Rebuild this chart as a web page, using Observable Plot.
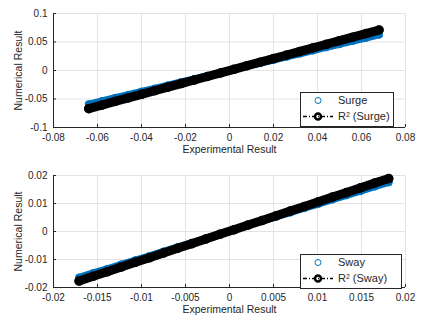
<!DOCTYPE html>
<html>
<head>
<meta charset="utf-8">
<script src="https://cdn.jsdelivr.net/npm/d3@7"></script>
<script src="https://cdn.jsdelivr.net/npm/@observablehq/plot@0.6"></script>
<style>
  html, body { margin: 0; padding: 0; background: #fff; }
  #chart { width: 430px; height: 324px; }
  #chart svg { display: block; }
</style>
</head>
<body>
<div id="chart"></div>
<script>
// ---- Surge data ----
const surgeExp = [-0.064,-0.058,-0.052,-0.046,-0.040,-0.034,-0.028,-0.022,-0.016,-0.010,-0.004,0.002,0.008,0.014,0.020,0.026,0.032,0.038,0.044,0.050,0.056,0.062,0.068];
const surgeNum = [-0.0589,-0.0534,-0.0478,-0.0423,-0.0368,-0.0313,-0.0258,-0.0202,-0.0147,-0.0092,-0.0037,0.0018,0.0074,0.0129,0.0184,0.0239,0.0294,0.0350,0.0405,0.0460,0.0515,0.0570,0.0626];
const surgeFit = [-0.0669,-0.0606,-0.0543,-0.0481,-0.0418,-0.0355,-0.0293,-0.0230,-0.0167,-0.0105,-0.0042,0.0021,0.0084,0.0146,0.0209,0.0272,0.0334,0.0397,0.0460,0.0523,0.0585,0.0648,0.0711];
// ---- Sway data ----
const swayExp = [-0.0171,-0.0155,-0.0139,-0.0123,-0.0107,-0.0091,-0.0075,-0.0059,-0.0043,-0.0027,-0.0011,0.0005,0.0021,0.0037,0.0053,0.0069,0.0085,0.0101,0.0117,0.0133,0.0149,0.0165,0.0181];
const swayNum = [-0.0164,-0.0148,-0.0133,-0.0117,-0.0102,-0.0087,-0.0071,-0.0056,-0.0040,-0.0025,-0.0010,0.0006,0.0021,0.0037,0.0052,0.0067,0.0083,0.0098,0.0114,0.0129,0.0144,0.0160,0.0175];
const swayFit = [-0.0177,-0.0160,-0.0144,-0.0127,-0.0110,-0.0094,-0.0077,-0.0060,-0.0044,-0.0027,-0.0010,0.0006,0.0023,0.0039,0.0056,0.0073,0.0089,0.0106,0.0123,0.0139,0.0156,0.0173,0.0189];
// ---- Ticks ----
const surgeXTicks = [-0.08,-0.06,-0.04,-0.02,0,0.02,0.04,0.06,0.08];
const surgeXLabels = ["-0.08","-0.06","-0.04","-0.02","0","0.02","0.04","0.06","0.08"];
const surgeYTicks = [-0.1,-0.05,0,0.05,0.1];
const surgeYLabels = ["-0.1","-0.05","0","0.05","0.1"];
const swayXTicks = [-0.02,-0.015,-0.01,-0.005,0,0.005,0.01,0.015,0.02];
const swayXLabels = ["-0.02","-0.015","-0.01","-0.005","0","0.005","0.01","0.015","0.02"];
const swayYTicks = [-0.02,-0.01,0,0.01,0.02];
const swayYLabels = ["-0.02","-0.01","0","0.01","0.02"];
const names = ["Surge","Sway"];

const BLUE = "#0072BD";
const INK = "#262626";
const FONT = "'Liberation Sans', Arial, sans-serif";

function panel(exp, num, fit, xT, xL, yT, yL, name, mb, legendW) {
  const data = exp.map((x, i) => ({x, num: num[i], fit: fit[i]}));
  const fmt = (ticks, labels) => d => labels[ticks.indexOf(d)] ?? "";
  const plot = Plot.plot({
    width: 430, height: 162,
    marginTop: 13, marginBottom: mb, marginLeft: 53, marginRight: 25,
    style: {fontFamily: FONT, fontSize: "10px", color: INK, background: "white"},
    x: {domain: [xT[0], xT[xT.length-1]]},
    y: {domain: [yT[0], yT[yT.length-1]]},
    marks: [
      Plot.gridX(xT, {stroke: "#e3e3e3", strokeOpacity: 1}),
      Plot.gridY(yT, {stroke: "#e3e3e3", strokeOpacity: 1}),
      Plot.line(data, {x: "x", y: "num", stroke: BLUE, strokeWidth: 7, strokeLinecap: "round"}),
      Plot.dot(data, {x: "x", y: "num", r: 3.5, stroke: BLUE, strokeWidth: 1}),
      Plot.line(data, {x: "x", y: "fit", stroke: "black", strokeWidth: 9, strokeLinecap: "round"}),
      Plot.dot(data, {x: "x", y: "fit", r: 3.5, stroke: "black", strokeWidth: 2.5}),
      Plot.ruleY([yT[0]], {stroke: INK}),
      Plot.ruleX([xT[0]], {stroke: INK}),
      Plot.axisX(xT, {tickSize: -3, tickFormat: () => "", stroke: INK, label: null}),
      Plot.axisY(yT, {tickSize: -3, tickFormat: () => "", stroke: INK, label: null}),
      Plot.axisX(xT, {tickSize: 0, tickPadding: 6, tickFormat: fmt(xT, xL), fill: INK, label: null}),
      Plot.axisY(yT, {tickSize: 0, tickPadding: 6, tickFormat: fmt(yT, yL), fill: INK, label: null}),
      Plot.text(["Experimental Result"], {frameAnchor: "bottom", dy: 25, fill: INK, fontSize: 10.5}),
      Plot.text(["Numerical Result"], {frameAnchor: "left", dx: -35, rotate: -90, textAnchor: "middle", fill: INK, fontSize: 10.5})
    ]
  });
  // legend
  const svg = d3.select(plot);
  const g = svg.append("g").attr("font-family", FONT).attr("font-size", 11).attr("fill", INK).attr("text-anchor", "start");
  const lx = 300, ly = 92, lh = 34;
  g.append("rect").attr("x", lx + 0.5).attr("y", ly + 0.5).attr("width", legendW).attr("height", lh)
    .attr("fill", "white").attr("stroke", INK).attr("stroke-width", 1);
  g.append("circle").attr("cx", 318).attr("cy", ly + 8.5).attr("r", 3).attr("fill", "none").attr("stroke", BLUE).attr("stroke-width", 1);
  g.append("text").attr("x", 338).attr("y", ly + 8.5).attr("dy", "0.35em").text(name);
  g.append("line").attr("x1", 303).attr("x2", 333).attr("y1", ly + 24.5).attr("y2", ly + 24.5)
    .attr("stroke", "black").attr("stroke-width", 1.5).attr("stroke-dasharray", "4,2,1,2");
  g.append("circle").attr("cx", 318).attr("cy", ly + 24.5).attr("r", 3).attr("fill", "none").attr("stroke", "black").attr("stroke-width", 2.5);
  const t = g.append("text").attr("x", 338).attr("y", ly + 24.5).attr("dy", "0.35em");
  t.append("tspan").text("R");
  t.append("tspan").attr("font-size", 7).attr("dy", "-0.55em").text("2");
  t.append("tspan").attr("dy", "0.35em").attr("dx", 3).text("(" + name + ")");
  return plot;
}

const root = document.getElementById("chart");
root.appendChild(panel(surgeExp, surgeNum, surgeFit, surgeXTicks, surgeXLabels, surgeYTicks, surgeYLabels, names[0], 35, 93));
root.appendChild(panel(swayExp, swayNum, swayFit, swayXTicks, swayXLabels, swayYTicks, swayYLabels, names[1], 37, 101));
</script>
</body>
</html>
